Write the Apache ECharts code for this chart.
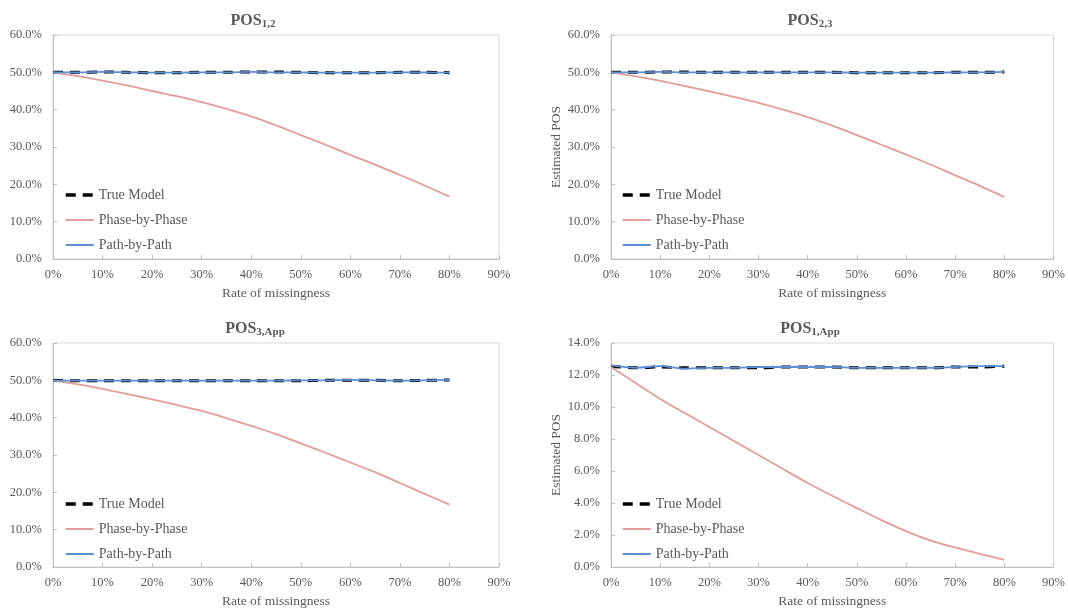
<!DOCTYPE html>
<html>

<head>
	<meta charset="UTF-8">
	<title>Estimated POS</title>
	<style>
		html, body { margin: 0; padding: 0; background: #fff; }
		#chart { width: 1068px; height: 609px; }
	</style>
	<script src="https://cdn.jsdelivr.net/npm/echarts@6/dist/echarts.min.js"></script>
</head>

<body>
	<div id="chart"></div>
	<script>
		// rate of missingness (%)
		var missRate = [0, 5, 10, 15, 20, 25, 30, 35, 40, 45, 50, 55, 60, 65, 70, 75, 80];

		// POS 1,2
		var true12 = [50.0, 50.0, 50.1, 50.0, 49.9, 49.9, 50.0, 50.0, 50.1, 50.1, 50.0, 49.9, 49.9, 49.9, 50.0, 50.0, 49.9];
		var phase12 = [50.0, 49.0, 47.8, 46.5, 45.0, 43.6, 42.0, 40.2, 38.2, 35.8, 33.2, 30.6, 27.9, 25.3, 22.5, 19.7, 16.7];
		var path12 = [50.0, 50.0, 50.1, 50.0, 49.9, 49.9, 50.0, 50.0, 50.1, 50.0, 50.0, 49.9, 49.9, 49.9, 50.0, 50.0, 49.9];

		// POS 2,3
		var true23 = [50.0, 50.0, 50.1, 50.1, 50.0, 50.0, 50.0, 50.0, 50.0, 50.0, 49.9, 49.9, 49.9, 49.9, 50.0, 50.0, 50.1];
		var phase23 = [50.0, 48.9, 47.7, 46.3, 44.9, 43.4, 41.8, 40.0, 38.0, 35.7, 33.2, 30.6, 28.0, 25.3, 22.4, 19.6, 16.6];
		var path23 = [50.0, 50.0, 50.1, 50.0, 50.0, 50.0, 50.0, 50.0, 50.0, 50.0, 49.9, 49.9, 49.9, 49.9, 50.0, 50.0, 50.1];

		// POS 3,App
		var true3App = [50.0, 49.9, 49.9, 49.9, 49.9, 49.9, 49.9, 49.9, 49.9, 49.9, 49.9, 50.0, 50.0, 50.0, 49.9, 50.0, 50.1];
		var phase3App = [50.0, 48.9, 47.7, 46.3, 44.9, 43.4, 41.8, 39.9, 37.8, 35.6, 33.1, 30.6, 28.0, 25.4, 22.5, 19.6, 16.7];
		var path3App = [50.0, 49.9, 49.9, 49.9, 49.9, 49.9, 49.9, 49.9, 49.9, 49.9, 50.0, 50.0, 50.1, 50.0, 49.9, 50.0, 50.1];

		// POS 1,App
		var true1App = [12.55, 12.45, 12.5, 12.45, 12.45, 12.45, 12.45, 12.5, 12.5, 12.5, 12.45, 12.45, 12.45, 12.45, 12.5, 12.5, 12.55];
		var phase1App = [12.5, 11.5, 10.5, 9.62, 8.75, 7.88, 7.0, 6.12, 5.25, 4.45, 3.68, 2.93, 2.24, 1.65, 1.22, 0.82, 0.45];
		var path1App = [12.6, 12.45, 12.55, 12.4, 12.45, 12.45, 12.5, 12.5, 12.5, 12.5, 12.45, 12.45, 12.45, 12.45, 12.5, 12.55, 12.55];

		var titles = [['POS', '1,2'], ['POS', '2,3'], ['POS', '3,App'], ['POS', '1,App']];
		var yMax = [60, 60, 60, 14];
		var yStep = [10, 10, 10, 2];
		var panels = [
			[true12, phase12, path12],
			[true23, phase23, path23],
			[true3App, phase3App, path3App],
			[true1App, phase1App, path1App]
		];
		var names = ['True Model', 'Phase-by-Phase', 'Path-by-Path'];

		var font = 'Liberation Serif';
		var txt = '#595959';

		// panel boxes
		var lefts = [53, 611, 53, 611];
		var tops = [35, 35, 343, 343];
		var titleX = [248, 805, 250, 805];
		var titleY = [8, 8, 316, 316];
		var legendX = [64, 621, 64, 621];
		var legendY = [188, 188, 497, 497];

		var grids = [], xAxes = [], yAxes = [], series = [], titleOpts = [], legends = [];

		function pairs(vals) {
			return missRate.map(function (x, i) {
				return [x, vals[i]];
			});
		}

		for (var p = 0; p < 4; p++) {
			grids.push({
				left: lefts[p],
				top: tops[p],
				width: 446,
				height: 224,
				show: true,
				borderColor: '#d9d9d9',
				borderWidth: 1
			});
			xAxes.push({
				type: 'value',
				gridIndex: p,
				min: 0,
				max: 90,
				interval: 10,
				name: 'Rate of missingness',
				nameLocation: 'middle',
				nameGap: 27,
				nameTextStyle: { color: txt, fontFamily: font, fontSize: 13.5 },
				axisLine: { lineStyle: { color: '#bfbfbf' } },
				axisTick: { show: true, inside: true, length: 4, lineStyle: { color: '#bfbfbf' } },
				axisLabel: {
					color: txt, fontFamily: font, fontSize: 12.5, margin: 9,
					formatter: function (v) { return v + '%'; }
				},
				splitLine: { show: false }
			});
			yAxes.push({
				type: 'value',
				gridIndex: p,
				min: 0,
				max: yMax[p],
				interval: yStep[p],
				name: (p % 2 === 1) ? 'Estimated POS' : '',
				nameLocation: 'middle',
				nameGap: 48,
				nameTextStyle: { color: txt, fontFamily: font, fontSize: 13.5 },
				axisLine: { show: true, lineStyle: { color: '#bfbfbf' } },
				axisTick: { show: true, inside: true, length: 4, lineStyle: { color: '#bfbfbf' } },
				axisLabel: {
					color: txt, fontFamily: font, fontSize: 12.5, margin: 11,
					formatter: function (v) { return v.toFixed(1) + '%'; }
				},
				splitLine: { show: false }
			});
			titleOpts.push({
				left: titleX[p],
				top: titleY[p],
				textAlign: 'center',
				text: '{m|' + titles[p][0] + '}{s|' + titles[p][1] + '}',
				textStyle: {
					rich: {
						m: { fontFamily: font, fontSize: 16, fontWeight: 'bold', color: txt, verticalAlign: 'top' },
						s: { fontFamily: font, fontSize: 11, fontWeight: 'bold', color: txt, verticalAlign: 'top', padding: [6, 0, 0, 0] }
					}
				}
			});
			legends.push({
				left: legendX[p],
				top: legendY[p],
				padding: 0,
				orient: 'vertical',
				itemWidth: 28,
				itemHeight: 10,
				itemGap: 11,
				data: [
					{ name: names[0], lineStyle: { width: 3.5 } },
					{ name: names[1] },
					{ name: names[2] }
				],
				itemStyle: { opacity: 0 },
				textStyle: { color: txt, fontFamily: font, fontSize: 14 }
			});

			var d = panels[p];
			series.push({
				name: names[0],
				type: 'line',
				xAxisIndex: p,
				yAxisIndex: p,
				data: pairs(d[0]),
				smooth: 0.3,
				symbol: 'none',
				lineStyle: { color: '#000', width: 3, type: [10, 7] },
				itemStyle: { color: '#000' }
			});
			series.push({
				name: names[1],
				type: 'line',
				xAxisIndex: p,
				yAxisIndex: p,
				data: pairs(d[1]),
				smooth: 0.3,
				symbol: 'none',
				lineStyle: { color: '#e39c98', width: 1.8 },
				itemStyle: { color: '#e39c98' }
			});
			series.push({
				name: names[2],
				type: 'line',
				xAxisIndex: p,
				yAxisIndex: p,
				data: pairs(d[2]),
				smooth: 0.3,
				symbol: 'none',
				lineStyle: { color: '#5a8fd4', width: 1.8 },
				itemStyle: { color: '#5a8fd4' }
			});
		}

		var mychart = echarts.init(document.getElementById('chart'));
		mychart.setOption({
			animation: false,
			backgroundColor: '#fff',
			title: titleOpts,
			legend: legends,
			grid: grids,
			xAxis: xAxes,
			yAxis: yAxes,
			series: series
		});
	</script>
</body>

</html>
